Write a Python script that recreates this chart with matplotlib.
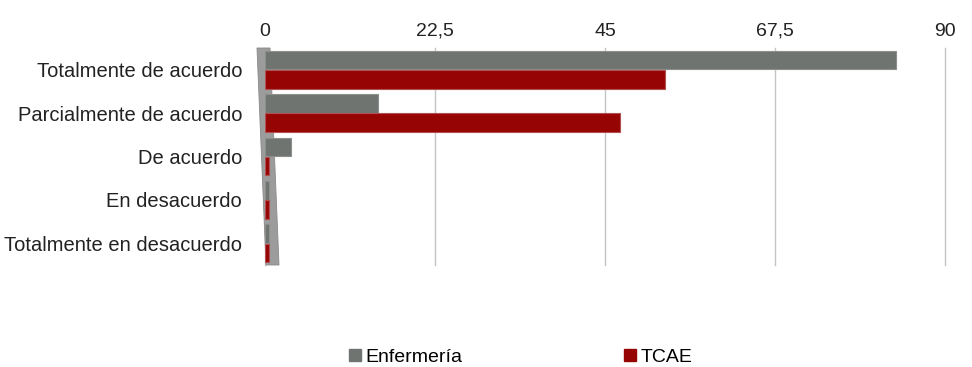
import matplotlib
matplotlib.use("Agg")
import matplotlib.pyplot as plt
from matplotlib.patches import Polygon, Patch
import numpy as np

categories = ["Totalmente de acuerdo", "Parcialmente de acuerdo", "De acuerdo",
              "En desacuerdo", "Totalmente en desacuerdo"]
enfermeria = [83.5, 15, 3.5, 0.5, 0.5]
tcae = [53, 47, 0.5, 0.5, 0.5]
xticks = [0, 22.5, 45, 67.5, 90]
xtick_labels = ["0", "22,5", "45", "67,5", "90"]
series_names = ["Enfermería", "TCAE"]

gray = "#6f7471"
red = "#970404"

plt.rcParams['font.family'] = ['Liberation Sans', 'DejaVu Sans']

fig = plt.figure(figsize=(9.72, 3.67), dpi=100)
ax = fig.add_axes([265/972, 1-265/367, 680/972, 217/367])

y = np.arange(len(categories))
h = 0.43
ax.barh(y - 0.22, enfermeria, height=h, color=gray, edgecolor="#8c908d", linewidth=0.8, zorder=3)
ax.barh(y + 0.22, tcae, height=h, color=red, edgecolor="#b05050", linewidth=0.8, zorder=3)

# left wall (3D style)
wall = Polygon([(-0.0118, 1.0), (0.0074, 1.0), (0.0206, 0.0), (0.0015, 0.0)],
               closed=True, transform=ax.transAxes, facecolor="#9c9c9c",
               edgecolor="#8a8a8a", linewidth=0.6, zorder=2, clip_on=False)
ax.add_patch(wall)

ax.set_xlim(0, 90)
ax.set_ylim(len(categories) - 0.5, -0.5)
ax.set_xticks(xticks)
ax.set_xticklabels(xtick_labels)
ax.set_yticks(y)
ax.set_yticklabels(categories)
ax.xaxis.tick_top()
ax.tick_params(axis='x', length=0, pad=6, labelsize=14, colors="#222222")
ax.tick_params(axis='y', length=0, pad=16.5, labelsize=14.5, colors="#222222")
for s in ax.spines.values():
    s.set_visible(False)
ax.grid(axis='x', color="#c4c4c4", linewidth=1.0, zorder=1)
for gl in ax.get_xgridlines():
    gl.set_clip_on(False)
ax.set_axisbelow(True)

handles = [Patch(facecolor=gray, edgecolor=gray), Patch(facecolor=red, edgecolor=red)]
fig.legend(handles, series_names, loc="center", bbox_to_anchor=(0.536, 0.026),
           ncol=2, frameon=False, fontsize=14, handlelength=0.6, handleheight=0.6,
           handletextpad=0.25, columnspacing=8.3)

fig.savefig("out.png", dpi=100)
